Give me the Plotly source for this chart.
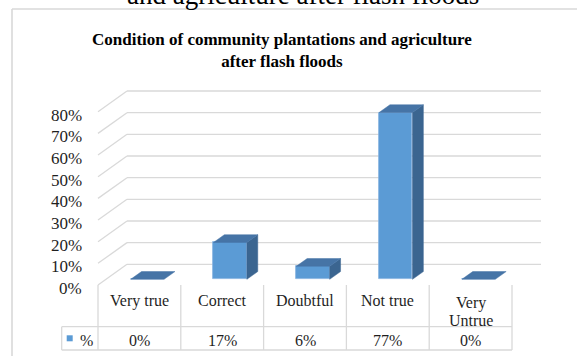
import plotly.graph_objects as go

# ---- data -------------------------------------------------------------
categories = ["Very true", "Correct", "Doubtful", "Not true", "Very Untrue"]
values = [0, 17, 6, 77, 0]                      # percent of respondents
y_ticks = [0, 10, 20, 30, 40, 50, 60, 70, 80]
y_tick_labels = [f"{t}%" for t in y_ticks]
value_labels = [f"{v}%" for v in values]
series_name = "%"
title_text = "Condition of community plantations and agriculture<br>after flash floods"
caption_text = "and agriculture after flash floods"

# ---- canvas / projection ---------------------------------------------
W, H = 577, 356
X0_PX, PX_PER_CAT = 98.0, 82.8        # left edge of first category on the front plane
Y0_PX, PX_PER_PCT = 285.0, 2.166      # 0 % on the front plane


def px2x(px):
    return -0.5 + (px - X0_PX) / PX_PER_CAT


def py2v(py):
    return (Y0_PX - py) / PX_PER_PCT


# oblique depth of the 3-D box (full depth), in data units
DX = 29.0 / PX_PER_CAT
DY = 20.7 / PX_PER_PCT
# bars sit part-way into the box
BAR_W = 33.4 / PX_PER_CAT
F0 = 0.275            # depth fraction of bar front face
FD = 0.375            # bar depth as fraction of box depth

FRONT = "#5B9BD5"
TOP = "#4674A6"
SIDE = "#3B6590"
GRID = "#D9D9D9"
SERIF = "Liberation Serif"
TXT = "#1f1f1f"

n = len(categories)
fig = go.Figure()
shapes = []
annotations = []


def line(x0, y0, x1, y1, color=GRID, width=1.3, layer="below"):
    shapes.append(dict(type="line", xref="x", yref="y", layer=layer,
                       x0=x0, y0=y0, x1=x1, y1=y1,
                       line=dict(color=color, width=width)))


# back wall + side wall gridlines (kept underneath the columns)
for t in y_ticks:
    line(-0.5, t, -0.5 + DX, t + DY)
    line(-0.5 + DX, t + DY, n - 0.5 + DX, t + DY)

# front faces of the columns
fx = [i + F0 * DX for i in range(n)]
fig.add_trace(go.Bar(x=fx, y=values, base=[F0 * DY] * n, width=BAR_W,
                     marker=dict(color=FRONT, line=dict(color="#86B2DF", width=0.8)),
                     hoverinfo="skip"))

# top and side faces computed from each value
ddx, ddy = FD * DX, FD * DY
for i, v in enumerate(values):
    xl = fx[i] - BAR_W / 2
    xr = fx[i] + BAR_W / 2
    yb = F0 * DY
    yt = yb + v
    if v > 0:
        fig.add_trace(go.Scatter(
            x=[xr, xr + ddx, xr + ddx, xr, xr],
            y=[yb, yb + ddy, yt + ddy, yt, yb],
            fill="toself", fillcolor=SIDE, mode="lines",
            line=dict(color=SIDE, width=0.5), hoverinfo="skip"))
    fig.add_trace(go.Scatter(
        x=[xl, xr, xr + ddx, xl + ddx, xl],
        y=[yt, yt, yt + ddy, yt + ddy, yt],
        fill="toself", fillcolor=TOP, mode="lines",
        line=dict(color=TOP, width=0.5), hoverinfo="skip"))

# data table grid
row1_top, row2_top, row2_bot = 285.0, 326.7, 350.0
leg_left = 61.7
for i in range(n + 1):
    line(i - 0.5, py2v(row1_top), i - 0.5, py2v(row2_bot))
line(px2x(leg_left), py2v(row2_top), n - 0.5, py2v(row2_top))
line(px2x(leg_left), py2v(row2_bot), n - 0.5, py2v(row2_bot))
line(px2x(leg_left), py2v(row2_top), px2x(leg_left), py2v(row2_bot))

# legend key in the table
shapes.append(dict(type="rect", xref="x", yref="y",
                   x0=px2x(66.7), x1=px2x(72.7), y0=py2v(341.3), y1=py2v(335.3),
                   fillcolor=FRONT, line=dict(width=0)))
annotations.append(dict(x=px2x(86), y=py2v(340), xref="x", yref="y",
                        text=series_name, showarrow=False,
                        font=dict(family=SERIF, size=16, color=TXT)))

# table text (long category names wrap onto two lines)
for i, (c, lab) in enumerate(zip(categories, value_labels)):
    if len(c) > 10:
        words = c.split(" ")
        parts = [words[0], " ".join(words[1:])]
        ys = [303.3, 320.2]
    else:
        parts = [c]
        ys = [300.8]
    for part, cy in zip(parts, ys):
        annotations.append(dict(x=i, y=py2v(cy), xref="x", yref="y", text=part,
                                showarrow=False, xanchor="center", yanchor="middle",
                                font=dict(family=SERIF, size=16, color=TXT)))
    annotations.append(dict(x=i, y=py2v(340), xref="x", yref="y", text=lab,
                            showarrow=False, xanchor="center", yanchor="middle",
                            font=dict(family=SERIF, size=16, color=TXT)))

# value axis labels at the front edge of the side wall
for t, lab in zip(y_ticks, y_tick_labels):
    annotations.append(dict(x=px2x(84), y=t - 1.6, xref="x", yref="y", text=lab,
                            xanchor="right", yanchor="middle", showarrow=False,
                            font=dict(family=SERIF, size=17, color=TXT)))

# chart title
annotations.append(dict(x=282 / W, y=1 - 51 / H, xref="paper", yref="paper",
                        text="<b>" + title_text + "</b>", showarrow=False,
                        xanchor="center", yanchor="middle",
                        font=dict(family=SERIF, size=17, color="#000000")))

# caption line above the chart frame
annotations.append(dict(x=303 / W, y=1 - 12 / H, xref="paper", yref="paper",
                        text=caption_text, showarrow=False,
                        xanchor="center", yanchor="bottom",
                        font=dict(family=SERIF, size=27, color="#000000")))

# chart frame
shapes.append(dict(type="line", xref="paper", yref="paper",
                   x0=12 / W, y0=-0.05, x1=12 / W, y1=1 - 9 / H,
                   line=dict(color=GRID, width=1.6)))
shapes.append(dict(type="line", xref="paper", yref="paper",
                   x0=12 / W, y0=1 - 9 / H, x1=1.05, y1=1 - 9 / H,
                   line=dict(color=GRID, width=1.6)))

fig.update_layout(
    width=W, height=H,
    margin=dict(l=0, r=0, t=0, b=0),
    paper_bgcolor="white", plot_bgcolor="white",
    showlegend=False,
    xaxis=dict(range=[px2x(0), px2x(W)], visible=False, fixedrange=True),
    yaxis=dict(range=[py2v(H), py2v(0)], visible=False, fixedrange=True),
    shapes=shapes,
    annotations=annotations,
    bargap=0,
)

fig.write_html("out.html")
